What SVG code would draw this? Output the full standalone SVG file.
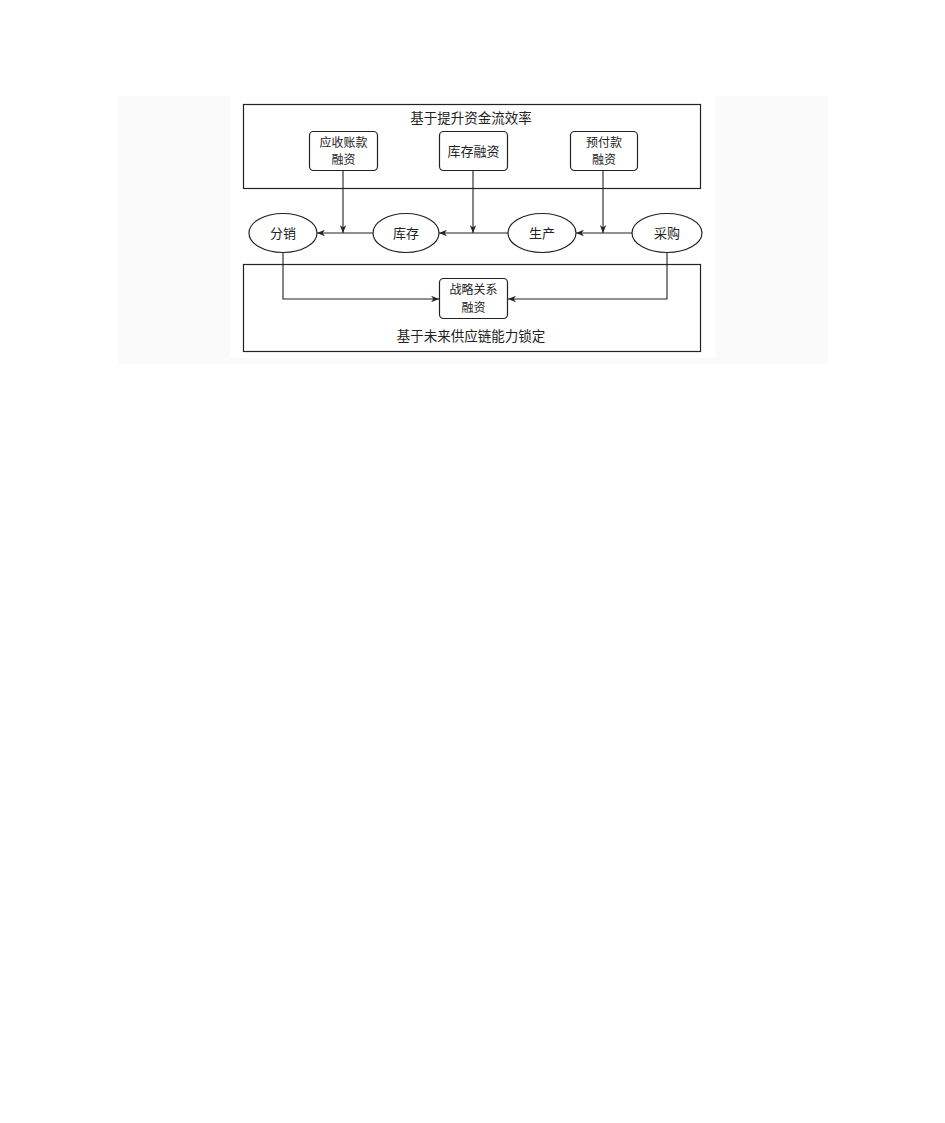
<svg xmlns="http://www.w3.org/2000/svg" width="945" height="1123" viewBox="0 0 945 1123">
<defs>
<marker id="arr" viewBox="0 0 10 10" refX="10" refY="5" markerWidth="8" markerHeight="8" markerUnits="userSpaceOnUse" orient="auto">
<path d="M0,1 L10,5 L0,9 L3,5 Z" fill="#222"/>
</marker>
<style>
text{font-family:"Noto Sans CJK SC","Liberation Sans",sans-serif;fill:#222;text-anchor:middle;}
.t{font-size:13px;}
.t2{font-size:12px;}
.big{font-size:13.5px;}
.box{fill:#fff;stroke:#222;stroke-width:1.2;}
.frame{fill:none;stroke:#222;stroke-width:1.2;}
.ln{fill:none;stroke:#222;stroke-width:1.1;marker-end:url(#arr);}
</style>
</defs>
<rect width="945" height="1123" fill="#fff"/>
<rect x="118" y="96" width="710" height="268" fill="#fafafa"/>
<rect x="230" y="96" width="485" height="262" fill="#fff"/>
<g id="top-frame">
<rect class="frame" x="243.5" y="104.5" width="457" height="84"/>
<text class="big" x="471" y="123">基于提升资金流效率</text>
</g>
<g id="bottom-frame">
<rect class="frame" x="243.5" y="264.5" width="457" height="87"/>
<text class="big" x="471" y="341">基于未来供应链能力锁定</text>
</g>
<g id="connectors">
<line class="ln" x1="343" y1="170" x2="343" y2="233"/>
<line class="ln" x1="473" y1="170" x2="473" y2="233"/>
<line class="ln" x1="603" y1="170" x2="603" y2="233"/>
<line class="ln" x1="632" y1="233" x2="576" y2="233"/>
<line class="ln" x1="508" y1="233" x2="439" y2="233"/>
<line class="ln" x1="373" y1="233" x2="317" y2="233"/>
<polyline class="ln" points="283,252 283,299 439,299"/>
<polyline class="ln" points="667,252 667,299 508,299"/>
</g>
<g id="n-ar">
<rect class="box" x="309.5" y="131.5" width="68" height="39" rx="4"/>
<text class="t2" x="343.5" y="147">应收账款</text>
<text class="t2" x="343.5" y="164">融资</text>
</g>
<g id="n-inv-fin">
<rect class="box" x="439.5" y="131.5" width="68" height="39" rx="4"/>
<text class="t" x="473.5" y="156">库存融资</text>
</g>
<g id="n-prepay">
<rect class="box" x="570.5" y="131.5" width="67" height="39" rx="4"/>
<text class="t2" x="604" y="147">预付款</text>
<text class="t2" x="604" y="164">融资</text>
</g>
<g id="n-strat">
<rect class="box" x="439.5" y="278.5" width="68" height="40" rx="4"/>
<text class="t2" x="473.5" y="294">战略关系</text>
<text class="t2" x="473.5" y="312">融资</text>
</g>
<g id="n-dist">
<ellipse class="box" cx="283" cy="233" rx="34" ry="19.5"/>
<text class="t" x="283" y="238">分销</text>
</g>
<g id="n-stock">
<ellipse class="box" cx="406" cy="233" rx="33" ry="19.5"/>
<text class="t" x="406" y="238">库存</text>
</g>
<g id="n-prod">
<ellipse class="box" cx="542" cy="233" rx="34" ry="19.5"/>
<text class="t" x="542" y="238">生产</text>
</g>
<g id="n-buy">
<ellipse class="box" cx="667" cy="233" rx="35" ry="19.5"/>
<text class="t" x="667" y="238">采购</text>
</g>
</svg>
